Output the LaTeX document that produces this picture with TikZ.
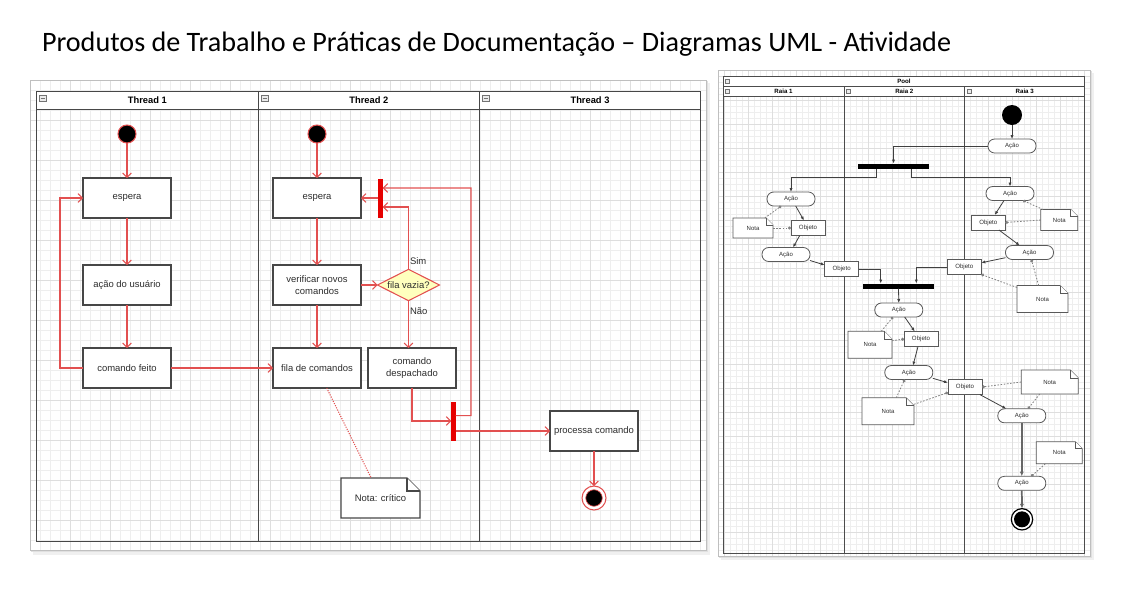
\documentclass[tikz,border=0pt]{standalone}
\usepackage{fontspec}
\setmainfont{Liberation Sans}
\newfontfamily\titlefont{Carlito}
\usetikzlibrary{arrows.meta,shapes.geometric}
\definecolor{lred}{RGB}{226,80,80}
\definecolor{bred}{RGB}{230,0,0}
\definecolor{gridc}{RGB}{238,238,238}
\definecolor{gridm}{RGB}{222,222,222}
\definecolor{yel}{RGB}{255,255,190}
\definecolor{txt}{RGB}{45,45,45}
\newcommand\mknote[8]{%
  \filldraw[#7-line] (#2,#3) ++({-#4/2},{#5/2}) -- ++(0,{-#5}) -- ++({#4-#6},0) -- ++(#6,#6) -- ++(0,{#5-#6}) -- cycle;
  \draw[#7-line] (#2,#3) ++({#4/2-#6},{-#5/2}) -- ++(0,#6) -- ++(#6,0);
  \node[#7, minimum width=#4*0.75pt, minimum height=#5*0.75pt] (#1) at (#2,#3) {#8};
}
\newcommand\hicon[2]{%
  \draw[black!55, fill=black!8, line width=0.4pt] (#1,#2) rectangle ++(7,6);
  \draw[black!55, line width=0.4pt] (#1,#2) ++(1.5,3) -- ++(4,0);
}
\newcommand\sicon[2]{%
  \draw[black!55, fill=black!8, line width=0.3pt] (#1,#2) rectangle ++(4,4);
}
\begin{document}
\begin{tikzpicture}[x=0.75pt,y=-0.75pt,
  every node/.style={inner sep=0pt, outer sep=0pt},
  abox/.style={draw=black!72, line width=1pt, fill=white, minimum width=66pt, minimum height=30pt,
    font=\fontsize{7.1}{8.6}\selectfont, text=txt, align=center},
  hdr/.style={font=\bfseries\fontsize{7}{8}\selectfont},
  rl/.style={draw=lred, line width=0.8pt},
  ra/.style={rl, -{Straight Barb[length=3.2pt,width=6.5pt]}},
  startc/.style={circle, fill=black, draw=lred, line width=0.8pt, minimum size=13.5pt},
  redbar/.style={fill=bred, minimum width=3.3pt, minimum height=29.25pt},
  dia/.style={diamond, draw=lred, line width=0.8pt, fill=yel, minimum width=46.5pt, minimum height=23.5pt},
  lnote/.style={font=\fontsize{7.1}{8.6}\selectfont, text=txt},
  lnote-line/.style={draw=black!72, line width=1pt, fill=white},
  rnote/.style={font=\fontsize{4.5}{5}\selectfont, text=txt},
  rnote-line/.style={draw=black!65, line width=0.6pt, fill=white},
  acao/.style={draw=black!65, line width=0.6pt, fill=white, rounded corners=5pt, minimum width=36pt, minimum height=10.5pt, font=\fontsize{4.5}{5}\selectfont, text=txt},
  obj/.style={draw=black!65, line width=0.6pt, fill=white, minimum width=25.5pt, minimum height=11.25pt, font=\fontsize{4.6}{5}\selectfont, text=txt},
  kbar/.style={fill=black, minimum width=53.25pt, minimum height=3.75pt},
  da/.style={draw=black!75, line width=0.6pt, -{Latex[length=3pt,width=2.4pt]}},
  dl/.style={draw=black!50, line width=0.6pt, dash pattern=on 1.2pt off 1.2pt, -{Circle[length=2.2pt]}},
  thick3/.style={draw=black!60, line width=1.3pt, -{Latex[length=3.5pt,width=3pt]}},
  rhdr/.style={font=\bfseries\fontsize{4.6}{5}\selectfont}
]
\useasboundingbox (0,0) rectangle (1148,590);
\fill[white] (0,0) rectangle (1148,590);

% title
\node[anchor=west, font=\titlefont\fontsize{21.1}{24}\selectfont] (title) at (42,44)
  {Produtos de Trabalho e Práticas de Documentação – Diagramas UML - Atividade};

% ---------------- left panel ----------------
\fill[black!6] (33,83) rectangle (710,555);
\fill[black!12] (31,81) rectangle (708,552);
\fill[white] (30,80) rectangle (706,550);
\foreach \i in {30,40,...,700} \draw[gridc, line width=0.4pt] (\i,80) -- (\i,550);
\foreach \j in {80,90,...,550} \draw[gridc, line width=0.4pt] (30,\j) -- (706,\j);
\foreach \i in {70,110,...,700} \draw[gridm, line width=0.4pt] (\i,80) -- (\i,550);
\foreach \j in {120,160,...,550} \draw[gridm, line width=0.4pt] (30,\j) -- (706,\j);
\draw[black!25] (30,80) rectangle (706,550);

\filldraw[fill=white, draw=black!72, line width=1pt] (36.5,91.5) rectangle (700.5,109.5);
\draw[black!72, line width=1pt] (36.5,91.5) rectangle (700.5,541.5);
\draw[black!72, line width=1pt] (258.3,91.5) -- (258.3,541.5);
\draw[black!72, line width=1pt] (479.3,91.5) -- (479.3,541.5);
\hicon{39}{95}\hicon{261}{95}\hicon{482}{95}
\node[hdr] (h1) at (147.4,100.5) {Thread 1};
\node[hdr] (h2) at (368.8,100.5) {Thread 2};
\node[hdr] (h3) at (590,100.5) {Thread 3};

% Thread 1
\node[startc] (s1) at (127,134) {};
\node[abox] (e1) at (127,198) {espera};
\node[abox] (a1) at (127,285) {ação do usuário};
\node[abox] (c1) at (127,368) {comando feito};
% Thread 2
\node[startc] (s2) at (317,134) {};
\node[abox] (e2) at (317,198) {espera};
\node[abox] (v2) at (317,285) {verificar novos\\comandos};
\node[abox] (f2) at (317,368) {fila de comandos};
\node[dia, label={[font=\fontsize{7.1}{8}\selectfont, text=txt]center:fila vazia?}] (d2) at (408.5,285) {};
\node[abox] (cd) at (412,368) {comando\\despachado};
\node[redbar] (b1) at (380.5,198) {};
\node[redbar] (b2) at (453.5,421) {};
\mknote{nt}{380.5}{498}{79}{40}{13}{lnote}{Nota: crítico}
% Thread 3
\node[abox] (pc) at (594,431) {processa comando};
\node[circle, draw=lred, line width=0.8pt, fill=white, minimum size=18pt] (en) at (594,498) {};
\filldraw[fill=black, draw=lred, line width=0.5pt] (en) circle (6.2pt);

\draw[ra] (s1) -- (e1);
\draw[ra] (e1) -- (a1);
\draw[ra] (a1) -- (c1);
\draw[ra] (c1.west) -- (60,368) -- (60,198) -- (e1.west);
\draw[ra] (c1) -- (f2);
\draw[ra] (s2) -- (e2);
\draw[ra] (e2) -- (v2);
\draw[ra] (v2) -- (f2);
\draw[ra] (v2) -- (d2.west);
\draw[ra] (b1) -- (e2);
\draw[ra] (d2.north) |- ([yshift=-6.75pt]b1.east);
\node[anchor=west, font=\fontsize{7.1}{8}\selectfont, text=txt] (sim) at (410,261) {Sim};
\node[anchor=west, font=\fontsize{7.1}{8}\selectfont, text=txt] (nao) at (410,311) {Não};
\draw[ra] (d2.south) -- (d2.south |- cd.north);
\draw[ra] (cd.south) |- (b2.west);
\draw[ra] ([yshift=4pt]b2.east) -- (471,415.7) -- (471,188) -- ([yshift=7.5pt]b1.east);
\draw[ra] ([yshift=-7.5pt]b2.east) -- (pc.west);
\draw[ra] (pc) -- (en);
\draw[lred, line width=0.8pt, densely dotted] ([xshift=7.3pt]f2.south) -- ([xshift=-7pt]nt.north);

% ---------------- right panel ----------------
\fill[black!6] (721,73) rectangle (1094,560);
\fill[black!12] (719,71) rectangle (1092,558);
\fill[white] (718,70) rectangle (1090,556);
\foreach \i in {718,724,...,1090} \draw[gridc, line width=0.3pt] (\i,70) -- (\i,556);
\foreach \j in {70,76,...,556} \draw[gridc, line width=0.3pt] (718,\j) -- (1090,\j);
\foreach \i in {724,748,...,1090} \draw[gridm, line width=0.3pt] (\i,70) -- (\i,556);
\foreach \j in {76,100,...,556} \draw[gridm, line width=0.3pt] (718,\j) -- (1090,\j);
\draw[black!25] (718,70) rectangle (1090,556);

\filldraw[fill=white, draw=black!70, line width=0.6pt] (723,76.7) rectangle (1084.7,96);
\draw[black!70, line width=0.6pt] (723,76.7) rectangle (1084.7,553.3);
\draw[black!70, line width=0.6pt] (723,86) -- (1084.7,86);
\draw[black!70, line width=0.6pt] (844,86) -- (844,553.3);
\draw[black!70, line width=0.6pt] (964.7,86) -- (964.7,553.3);
\sicon{725}{79.3}\sicon{725}{89}\sicon{846}{89}\sicon{967}{89}
\node[rhdr] (pool) at (904,81.4) {Pool};
\node[rhdr] (r1) at (783.5,91) {Raia 1};
\node[rhdr] (r2) at (904.3,91) {Raia 2};
\node[rhdr] (r3) at (1024.7,91) {Raia 3};

\node[circle, fill=black, minimum size=15pt] (rs) at (1012,115) {};
\node[acao] (A0) at (1012,146) {Ação};
\node[kbar] (K1) at (893.5,166) {};
\node[acao] (A1) at (791,199) {Ação};
\node[obj] (O1) at (808,228) {Objeto};
\mknote{N1}{753}{228}{40}{20}{7}{rnote}{Nota}
\node[acao] (A2) at (786,254.5) {Ação};
\node[obj] (O2) at (841.7,269) {Objeto};
\node[kbar] (K2) at (898.5,286) {};
\node[obj] (O3) at (964.3,267) {Objeto};
\node[acao] (A3) at (1010,193.5) {Ação};
\node[obj] (O4) at (988.3,222.5) {Objeto};
\mknote{N2}{1059.3}{220}{37}{21}{7}{rnote}{Nota}
\node[acao] (A4) at (1029.5,252.5) {Ação};
\mknote{N3}{1042.5}{299}{51}{27}{8}{rnote}{Nota}
\node[acao] (A5) at (898.8,310) {Ação};
\node[obj] (O5) at (921,339) {Objeto};
\mknote{N4}{870}{344.7}{44}{27}{8}{rnote}{Nota}
\node[acao] (A6) at (908.8,372.5) {Ação};
\node[obj] (O6) at (965,387) {Objeto};
\mknote{N5}{1049.7}{382}{57}{24}{8}{rnote}{Nota}
\mknote{N6}{888}{411.3}{52}{27}{8}{rnote}{Nota}
\node[acao] (A7) at (1021.8,415.8) {Ação};
\mknote{N7}{1059.3}{452.8}{46}{22}{7}{rnote}{Nota}
\node[acao] (A8) at (1021.8,483.3) {Ação};
\node[circle, draw=black, line width=0.9pt, fill=white, minimum size=16pt] (E3) at (1022,519.3) {};
\fill[black] (E3) circle (6pt);

\draw[da] (rs) -- (A0);
\draw[da] (A0.west) -| (K1.north);
\draw[da] ([xshift=-12.9pt]K1.south) -- ++(0,9.2) -| (A1.north);
\draw[da] ([xshift=13.35pt]K1.south) -- ++(0,9.2) -| (A3.north);
\draw[da] ([xshift=3.5pt]A1.south) -- ([xshift=-3pt]O1.north);
\draw[dl] ([xshift=8.8pt]N1.north) -- ([xshift=-7.3pt]A1.south);
\draw[dl] (N1.east) -- (O1.west);
\draw[da] ([xshift=-6.2pt]O1.south) -- ([xshift=5.25pt]A2.north);
\draw[da] ([yshift=-4.5pt]A2.east) -- ([yshift=3pt]O2.west);
\draw[da] (O2.east) -| ([xshift=-13.35pt]K2.north);
\draw[da] (O3.west) -| ([xshift=13.35pt]K2.north);
\draw[da] ([xshift=-4.5pt]A3.south) -- ([xshift=4.8pt]O4.north);
\draw[dl] (N2.west) -- (O4.east);
\draw[dl] ([xshift=1.7pt]N2.north west) -- ([xshift=9.75pt]A3.south);
\draw[da] ([xshift=8pt]O4.south) -- ([xshift=-7.35pt]A4.north);
\draw[da] ([yshift=-3.9pt]A4.west) -- ([yshift=3.2pt]O3.east);
\draw[dl] ([xshift=-2.85pt]N3.north) -- ([xshift=1.35pt]A4.south);
\draw[dl] ([yshift=-1.5pt]N3.north west) -- (O3.south east);
\draw[da] (K2.south) -- (A5.north);
\draw[da] ([xshift=4.4pt]A5.south) -- ([xshift=-4.7pt]O5.north);
\draw[dl] ([xshift=8.5pt]N4.north) -- ([xshift=-4.35pt]A5.south);
\draw[dl] ([yshift=3pt]N4.east) -- (O5.west);
\draw[da] ([xshift=-2.25pt]O5.south) -- ([xshift=3.15pt]A6.north);
\draw[da] ([yshift=-4.35pt]A6.east) -- ([yshift=3.2pt]O6.west);
\draw[dl] (N5.west) -- (O6.east);
\draw[dl] ([xshift=6.2pt]N6.north) -- ([xshift=-3.1pt]A6.south);
\draw[dl] ([yshift=5.25pt]N6.east) -- ([yshift=1.5pt]O6.south west);
\draw[da] ([xshift=-1.7pt]O6.south east) -- ([xshift=-11.6pt]A7.north);
\draw[dl] ([xshift=-7.5pt]N5.south) -- ([xshift=4.65pt]A7.north);
\draw[thick3] (A7.south) -- (A8.north);
\draw[dl] ([xshift=-10.5pt]N7.south) -- ([xshift=7.1pt]A8.north);
\draw[thick3] (A8.south) -- (E3.north);
\end{tikzpicture}
\end{document}
